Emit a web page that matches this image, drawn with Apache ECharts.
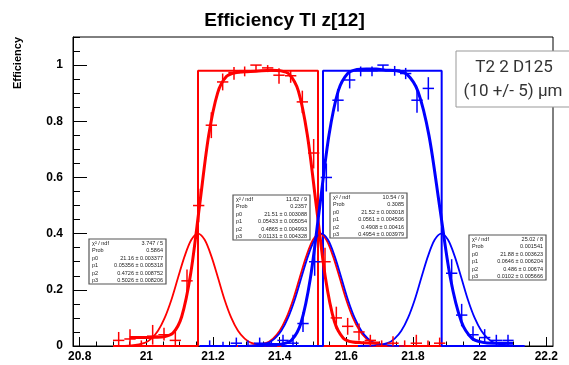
<!DOCTYPE html>
<html>
<head>
<meta charset="utf-8">
<script src="https://cdn.jsdelivr.net/npm/echarts@6/dist/echarts.min.js"></script>
<style>
  html, body { margin: 0; padding: 0; background: #fff; }
  #chart { width: 569px; height: 365px; }
</style>
</head>
<body>
<div id="chart"></div>
<script>
// tick labels
const xMajor = [20.8, 21, 21.2, 21.4, 21.6, 21.8, 22, 22.2];
const yMajor = [0, 0.2, 0.4, 0.6, 0.8, 1];

// step outlines (histogram boxes)
const redBox = [[20.9, 0], [21.155, 0], [21.155, 0.98], [21.515, 0.98], [21.515, 0], [22.1, 0]];
const blueBox = [[21.16, 0], [21.53, 0], [21.53, 0.98], [21.886, 0.98], [21.886, 0], [22.1, 0]];

// efficiency points: [x, y, xerr, yerrLow, yerrHigh]
const redPts = [
  [20.917, 0.02, 0.017, 0.02, 0.03], [20.951, 0.025, 0.017, 0.025, 0.035],
  [20.985, 0, 0.017, 0, 0.02], [21.019, 0.035, 0.017, 0.03, 0.04],
  [21.053, 0.04, 0.017, 0.02, 0.025], [21.087, 0.02, 0.017, 0.02, 0.03],
  [21.122, 0.232, 0.017, 0.04, 0.04], [21.157, 0.5, 0.017, 0.06, 0.06],
  [21.195, 0.786, 0.017, 0.046, 0.046], [21.229, 0.94, 0.017, 0.03, 0.03],
  [21.263, 0.973, 0.017, 0.025, 0.02], [21.295, 0.98, 0.017, 0.02, 0.015],
  [21.329, 1.0, 0.017, 0.02, 0], [21.364, 0.99, 0.017, 0.015, 0.01],
  [21.398, 0.964, 0.017, 0.03, 0.025], [21.433, 0.962, 0.017, 0.025, 0.02],
  [21.468, 0.869, 0.017, 0.04, 0.04], [21.502, 0.687, 0.017, 0.055, 0.05],
  [21.536, 0.3, 0.017, 0.05, 0.05], [21.57, 0.1, 0.017, 0.04, 0.04],
  [21.604, 0.07, 0.017, 0.03, 0.03], [21.638, 0.05, 0.017, 0.03, 0.03],
  [21.672, 0.02, 0.017, 0.02, 0.02], [21.706, 0, 0.017, 0, 0.02],
  [21.74, 0.01, 0.017, 0.01, 0.025], [21.775, 0, 0.017, 0, 0.02],
  [21.81, 0.01, 0.017, 0.01, 0.03], [21.845, 0, 0.017, 0, 0.02],
  [21.88, 0.01, 0.017, 0.01, 0.02]
];
const bluePts = [
  [21.19, 0, 0.017, 0, 0.02], [21.23, 0, 0.017, 0, 0.015],
  [21.27, 0.01, 0.017, 0.01, 0.02], [21.305, 0, 0.017, 0, 0.02],
  [21.34, 0.01, 0.017, 0.01, 0.02], [21.375, 0, 0.017, 0, 0.02],
  [21.41, 0.02, 0.017, 0.02, 0.02], [21.44, 0.01, 0.017, 0.01, 0.03],
  [21.47, 0.08, 0.017, 0.03, 0.04], [21.505, 0.3, 0.017, 0.05, 0.05],
  [21.54, 0.6, 0.017, 0.05, 0.05], [21.575, 0.875, 0.017, 0.04, 0.04],
  [21.61, 0.947, 0.017, 0.03, 0.03], [21.643, 0.98, 0.017, 0.02, 0.015],
  [21.677, 0.98, 0.017, 0.02, 0.015], [21.71, 1.0, 0.017, 0.02, 0],
  [21.745, 0.982, 0.017, 0.02, 0.015], [21.778, 0.97, 0.017, 0.02, 0.02],
  [21.812, 0.875, 0.017, 0.045, 0.045], [21.846, 0.917, 0.017, 0.04, 0.04],
  [21.916, 0.259, 0.017, 0.05, 0.05], [21.946, 0.11, 0.017, 0.04, 0.04],
  [21.98, 0.04, 0.017, 0.02, 0.03], [22.015, 0.03, 0.017, 0.02, 0.03],
  [22.05, 0.02, 0.017, 0.02, 0.02], [22.085, 0.02, 0.017, 0.02, 0.02]
];

// fitted edge curves
const redFit = [
  [20.95, 0.03], [21.0, 0.03], [21.026, 0.031], [21.053, 0.033], [21.08, 0.046],
  [21.106, 0.104], [21.133, 0.257], [21.16, 0.503], [21.187, 0.749], [21.214, 0.901],
  [21.24, 0.959], [21.267, 0.973], [21.294, 0.976], [21.33, 0.978], [21.374, 0.982],
  [21.401, 0.98], [21.428, 0.968], [21.456, 0.908], [21.483, 0.751], [21.51, 0.498],
  [21.537, 0.245], [21.564, 0.088], [21.591, 0.028], [21.619, 0.014], [21.646, 0.012],
  [21.7, 0.011]
];
const blueFit = [
  [21.33, 0.005], [21.38, 0.005], [21.408, 0.007], [21.436, 0.021], [21.464, 0.082],
  [21.492, 0.24], [21.52, 0.495], [21.548, 0.751], [21.576, 0.909], [21.604, 0.97],
  [21.632, 0.984], [21.66, 0.986], [21.69, 0.986], [21.718, 0.982], [21.751, 0.98],
  [21.783, 0.966], [21.815, 0.906], [21.848, 0.749], [21.88, 0.496], [21.912, 0.243],
  [21.945, 0.087], [21.977, 0.027], [22.009, 0.013], [22.041, 0.01], [22.1, 0.01]
];

// resolution gaussians
const redGaus1 = [
  [20.905, 0], [20.955, 0.002], [20.995, 0.011], [21.015, 0.026], [21.035, 0.054],
  [21.055, 0.1], [21.075, 0.164], [21.095, 0.243], [21.115, 0.32], [21.135, 0.378],
  [21.155, 0.4], [21.175, 0.378], [21.195, 0.32], [21.215, 0.243], [21.235, 0.164],
  [21.255, 0.1], [21.275, 0.054], [21.295, 0.026], [21.315, 0.011], [21.355, 0.002], [21.405, 0]
];
const redGaus2 = [
  [21.27, 0], [21.32, 0.002], [21.36, 0.011], [21.38, 0.026], [21.4, 0.054],
  [21.42, 0.1], [21.44, 0.164], [21.46, 0.243], [21.48, 0.32], [21.5, 0.378],
  [21.52, 0.4], [21.54, 0.378], [21.56, 0.32], [21.58, 0.243], [21.6, 0.164],
  [21.62, 0.1], [21.64, 0.054], [21.66, 0.026], [21.68, 0.011], [21.72, 0.002], [21.77, 0]
];
const blueGaus1 = [
  [21.275, 0], [21.325, 0.002], [21.365, 0.011], [21.385, 0.026], [21.405, 0.054],
  [21.425, 0.1], [21.445, 0.164], [21.465, 0.243], [21.485, 0.32], [21.505, 0.378],
  [21.525, 0.4], [21.545, 0.378], [21.565, 0.32], [21.585, 0.243], [21.605, 0.164],
  [21.625, 0.1], [21.645, 0.054], [21.665, 0.026], [21.685, 0.011], [21.725, 0.002], [21.775, 0]
];
const blueGaus2 = [
  [21.635, 0], [21.685, 0.002], [21.725, 0.011], [21.745, 0.026], [21.765, 0.054],
  [21.785, 0.1], [21.805, 0.164], [21.825, 0.243], [21.845, 0.32], [21.865, 0.378],
  [21.885, 0.4], [21.905, 0.378], [21.925, 0.32], [21.945, 0.243], [21.965, 0.164],
  [21.985, 0.1], [22.005, 0.054], [22.025, 0.026], [22.045, 0.011], [22.085, 0.002], [22.135, 0]
];

// fit statistics boxes
const statNames = ['\u03c7\u00b2 / ndf', 'Prob', 'p0', 'p1', 'p2', 'p3'];
const statRedRise = ['3.747 / 5', '0.5864', '21.16 \u00b1 0.003377', '0.05356 \u00b1 0.005318', '0.4726 \u00b1 0.008752', '0.5026 \u00b1 0.008206'];
const statRedFall = ['11.62 / 9', '0.2357', '21.51 \u00b1 0.003088', '0.05433 \u00b1 0.005054', '0.4865 \u00b1 0.004993', '0.01131 \u00b1 0.004328'];
const statBlueRise = ['10.54 / 9', '0.3085', '21.52 \u00b1 0.003018', '0.0561 \u00b1 0.004506', '0.4908 \u00b1 0.00416', '0.4954 \u00b1 0.003979'];
const statBlueFall = ['25.02 / 8', '0.001541', '21.88 \u00b1 0.003623', '0.0646 \u00b1 0.006204', '0.486 \u00b1 0.00674', '0.0102 \u00b1 0.005666'];

const xMinor = [];
for (let i = 0; i <= 28; i++) xMinor.push(+(20.8 + i * 0.05).toFixed(2));
const yMinor = [];
for (let i = 0; i <= 22; i++) yMinor.push(+(i * 0.05).toFixed(2));

const FONT = 'Liberation Sans, Arial, Helvetica, sans-serif';

function errorBars(name, pts, color) {
  return {
    name: name,
    type: 'custom',
    data: pts,
    z: 5,
    renderItem: function (params, api) {
      const x = api.value(0), y = api.value(1), ex = api.value(2);
      const lo = api.value(3), hi = api.value(4);
      const l = api.coord([x - ex, y]);
      const r = api.coord([x + ex, y]);
      const b = api.coord([x, y - lo]);
      const t = api.coord([x, y + hi]);
      const st = { stroke: color, lineWidth: 1.5 };
      return {
        type: 'group',
        children: [
          { type: 'line', shape: { x1: l[0], y1: l[1], x2: r[0], y2: r[1] }, style: st },
          { type: 'line', shape: { x1: b[0], y1: b[1], x2: t[0], y2: t[1] }, style: st }
        ]
      };
    }
  };
}

function curve(name, data, color, width, z) {
  return {
    name: name, type: 'line', data: data, showSymbol: false, smooth: 0.3,
    lineStyle: { color: color, width: width }, z: z, silent: true
  };
}

function statBox(x, y, vals) {
  const w = 77, h = 45, rowH = h / 6;
  const children = [
    { type: 'rect', shape: { x: 0, y: 0, width: w, height: h },
      style: { fill: '#fff', stroke: '#555', lineWidth: 1.2 } }
  ];
  statNames.forEach(function (n, i) {
    const cy = rowH * i + rowH / 2 + 0.5;
    children.push({ type: 'text', x: 3, y: cy,
      style: { text: n, font: '5.5px ' + FONT, fill: '#222', textVerticalAlign: 'middle' } });
    children.push({ type: 'text', x: w - 3, y: cy,
      style: { text: vals[i], font: '5.5px ' + FONT, fill: '#222', textAlign: 'right', textVerticalAlign: 'middle' } });
  });
  return { type: 'group', x: x, y: y, z: 50, children: children };
}

const chart = echarts.init(document.getElementById('chart'), null, { renderer: 'canvas' });

const option = {
  animation: false,
  backgroundColor: '#fff',
  title: {
    text: 'Efficiency Tl z[12]',
    left: 'center',
    top: 6,
    textStyle: { fontFamily: FONT, fontWeight: 'bold', fontSize: 19, color: '#000' }
  },
  grid: { left: 73, right: 16, top: 37, bottom: 19, show: true, borderColor: '#000', borderWidth: 1, backgroundColor: 'transparent' },
  xAxis: [
    {
      type: 'value', min: 20.78, max: 22.22,
      axisLine: { lineStyle: { color: '#000' } },
      splitLine: { show: false },
      axisTick: { inside: true, length: 9, customValues: xMajor, lineStyle: { color: '#000' } },
      axisLabel: { customValues: xMajor, fontFamily: FONT, fontWeight: 'bold', fontSize: 12, color: '#000', margin: 5,
        formatter: function (v) { return String(+v.toFixed(1)); } }
    },
    {
      type: 'value', min: 20.78, max: 22.22, position: 'bottom',
      axisLine: { show: false },
      splitLine: { show: false },
      axisTick: { inside: true, length: 4.5, customValues: xMinor, lineStyle: { color: '#000' } },
      axisLabel: { show: false }
    }
  ],
  yAxis: [
    {
      type: 'value', min: 0, max: 1.1,
      axisLine: { show: true, lineStyle: { color: '#000' } },
      splitLine: { show: false },
      axisTick: { show: true, inside: true, length: 14, customValues: yMajor, lineStyle: { color: '#000' } },
      axisLabel: { customValues: yMajor, fontFamily: FONT, fontWeight: 'bold', fontSize: 12, color: '#000', margin: 10,
        formatter: function (v) { return String(+v.toFixed(1)); } }
    },
    {
      type: 'value', min: 0, max: 1.1, position: 'left',
      axisLine: { show: false },
      splitLine: { show: false },
      axisTick: { show: true, inside: true, length: 7, customValues: yMinor, lineStyle: { color: '#000' } },
      axisLabel: { show: false }
    }
  ],
  graphic: [
    { type: 'text', x: 18, y: 37, rotation: Math.PI / 2, z: 50,
      style: { text: 'Efficiency', font: 'bold 11px ' + FONT, fill: '#000', textAlign: 'right', textVerticalAlign: 'middle' } },
    { type: 'group', x: 456, y: 51, z: 60, children: [
      { type: 'rect', shape: { x: 0, y: 0, width: 130, height: 56 }, style: { fill: '#fff', stroke: '#999', lineWidth: 1 } },
      { type: 'text', x: 58, y: 17, style: { text: 'T2 2 D125', font: '17px Roboto, sans-serif', fill: '#333', textAlign: 'center', textVerticalAlign: 'middle' } },
      { type: 'text', x: 57, y: 41, style: { text: '(10 +/- 5) \u03bcm', font: '17px Roboto, sans-serif', fill: '#333', textAlign: 'center', textVerticalAlign: 'middle' } }
    ] },
    statBox(89, 239, statRedRise),
    statBox(233, 195, statRedFall),
    statBox(330, 193, statBlueRise),
    statBox(469, 235, statBlueFall)
  ],
  series: [
    { name: 'redBox', type: 'line', data: redBox, showSymbol: false, lineStyle: { color: '#ff0000', width: 2 }, z: 2 },
    { name: 'blueBox', type: 'line', data: blueBox, showSymbol: false, lineStyle: { color: '#0000ff', width: 2 }, z: 2 },
    curve('redGaus1', redGaus1, '#ff0000', 1.8, 3),
    curve('redGaus2', redGaus2, '#ff0000', 1.8, 3),
    curve('blueGaus1', blueGaus1, '#0000ff', 1.8, 3),
    curve('blueGaus2', blueGaus2, '#0000ff', 1.8, 3),
    errorBars('redPts', redPts, '#ff0000'),
    errorBars('bluePts', bluePts, '#0000ff'),
    curve('redFit', redFit, '#ff0000', 3, 6),
    curve('blueFit', blueFit, '#0000ff', 3, 6)
  ]
};

chart.setOption(option);
</script>
</body>
</html>
